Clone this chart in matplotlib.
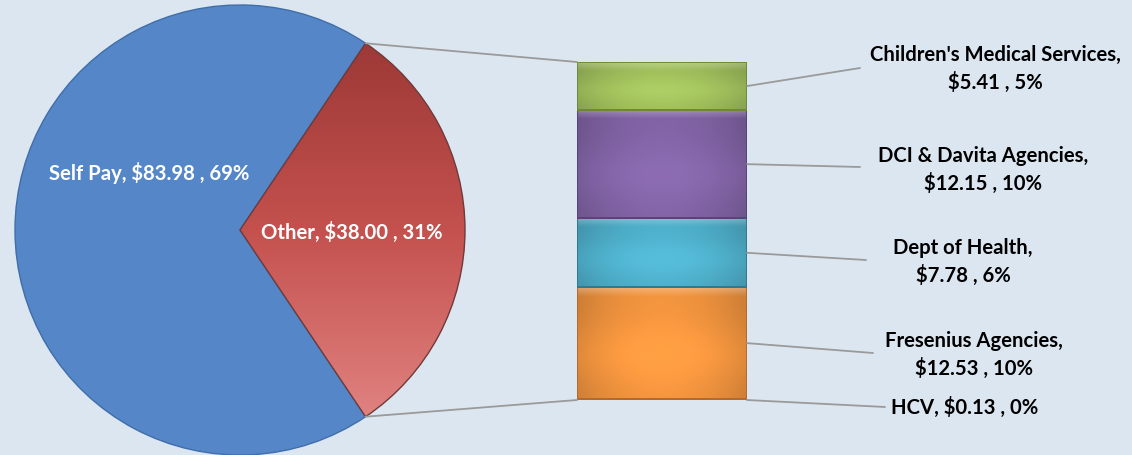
import numpy as np
import matplotlib.pyplot as plt
from matplotlib.patches import ConnectionPatch
from matplotlib.colors import LinearSegmentedColormap, to_rgb

plt.rcParams['font.family'] = ['Lato', 'DejaVu Sans']
plt.rcParams['font.weight'] = 'bold'

main_labels = ['Other', 'Self Pay']
main_values = [38.00, 83.98]
main_pct = [31, 69]

sub_labels = ['HCV', 'Fresenius Agencies', 'Dept of Health',
              'DCI & Davita Agencies', "Children's Medical Services"]
sub_values = [0.13, 12.53, 7.78, 12.15, 5.41]
sub_pct = [0, 10, 6, 10, 5]

bg = '#dce6f1'
sub_colors = ['#8b7d5a', '#f3953f', '#4fb0cb', '#8264a6', '#a0bf5c']
sub_edges = ['#6b5d3a', '#b86a2a', '#2f7a8e', '#574478', '#6f8a3a']

fig = plt.figure(figsize=(11.32, 4.55), dpi=100, facecolor=bg)
ax = fig.add_axes([0, 0, 1, 1])
ax.set_facecolor(bg)

other_angle = 360 * main_values[0] / sum(main_values)
wedges, _ = ax.pie(main_values, colors=['#c0504d', '#5586c8'],
                   startangle=-other_angle / 2, radius=225, center=(240, 225),
                   wedgeprops=dict(edgecolor='#6e3a3a', linewidth=1.0))
wedges[1].set_edgecolor('#3f6eaa')

# darker top / lighter bottom shading on the "Other" slice
cmap = LinearSegmentedColormap.from_list('red', ['#9c3936', '#c4514e', '#e08381'])
grad = np.linspace(0, 1, 256).reshape(-1, 1)
im = ax.imshow(grad, cmap=cmap, extent=[240, 465, 225 - 190, 225 + 190],
               aspect='auto', zorder=2)
im.set_clip_path(wedges[0])
wedges[0].set_zorder(3)
wedges[0].set_facecolor('none')

ax.set_xlim(0, 1132)
ax.set_ylim(0, 455)
ax.set_aspect('auto')
ax.axis('off')

ax.text(149, 282, f'{main_labels[1]}, \\${main_values[1]:.2f} , {main_pct[1]}%',
        color='white', fontsize=14.6, ha='center', va='center', zorder=5)
ax.text(352, 223, f'{main_labels[0]}, \\${main_values[0]:.2f} , {main_pct[0]}%',
        color='white', fontsize=14.6, ha='center', va='center', zorder=5)

# stacked bar for the breakdown of "Other"
total = sum(sub_values)
bar_h = 338
ax_bar = fig.add_axes([577 / 1132, 55 / 455, 170 / 1132, bar_h / 455])
ax_bar.axis('off')

bottom = 0
mids = []
for val, col, ec in zip(sub_values, sub_colors, sub_edges):
    base = np.array(to_rgb(col))
    hpx = max(val / total * bar_h, 1)
    nrow = max(int(hpx), 2)
    xs = np.linspace(-1, 1, 85)
    ys = np.linspace(0, hpx, nrow)
    shade = (1.0 - 0.16 * xs[None, :] ** 2
             + 0.08 * np.exp(-((ys[:, None] / hpx - 0.6) ** 2) / 0.08))
    img = base[None, None, :] * shade[:, :, None]
    glow = np.clip(1 - ys / 9, 0, 1)[:, None, None] * 0.28
    img = img * (1 - glow) + glow
    img = np.clip(img, 0, 1)
    ax_bar.imshow(img, extent=[0, 1, bottom, bottom + val], aspect='auto',
                  interpolation='bilinear', origin='upper', zorder=1)
    ax_bar.bar(0.5, val, width=1, bottom=bottom, color='none',
               edgecolor=ec, linewidth=1.4, zorder=2)
    mids.append(bottom + val / 2)
    bottom += val
ax_bar.set_xlim(0, 1)
ax_bar.set_ylim(0, total)

# connector lines between pie and bar
for theta, ybar in [(wedges[0].theta2, total), (wedges[0].theta1, 0)]:
    x = 240 + 225 * np.cos(np.radians(theta))
    y = 225 + 225 * np.sin(np.radians(theta))
    con = ConnectionPatch(xyA=(x, y), coordsA=ax.transData,
                          xyB=(0, ybar), coordsB=ax_bar.transData,
                          color='#9a9a9a', linewidth=1.3)
    fig.add_artist(con)

# labels for the bar segments
leader_ends = [(885, 48), (873, 102), (866, 195), (860, 288), (860, 387)]
text_pos = [(965, 48), (974, 100), (963, 193), (983, 285), (995, 386)]
mids[0] = 0
for i, lab in enumerate(sub_labels):
    con = ConnectionPatch(xyA=(1, mids[i]), coordsA=ax_bar.transData,
                          xyB=leader_ends[i], coordsB='figure pixels',
                          color='#9a9a9a', linewidth=1.3)
    fig.add_artist(con)
    sep = ' ' if lab == 'HCV' else '\n'
    txt = f'{lab},{sep}\\${sub_values[i]:.2f} , {sub_pct[i]}%'
    fig.text(text_pos[i][0] / 1132, text_pos[i][1] / 455, txt,
             ha='center', va='center', fontsize=14.6, color='black',
             linespacing=1.45)

fig.savefig('out.png', dpi=100, facecolor=bg)
